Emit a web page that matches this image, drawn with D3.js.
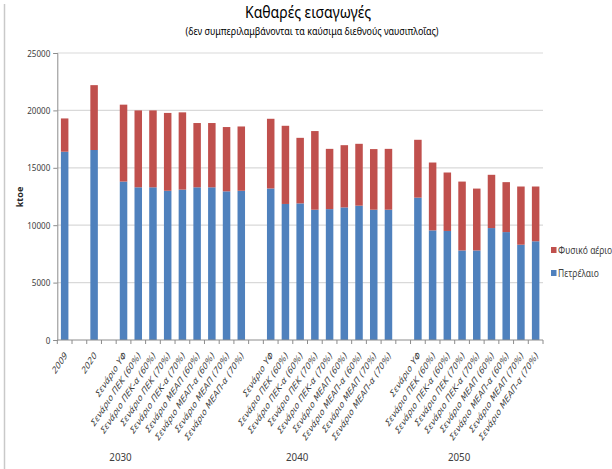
<!DOCTYPE html>
<html>
<head>
<meta charset="utf-8">
<script src="https://cdn.jsdelivr.net/npm/d3@7"></script>
<style>
  html, body { margin: 0; padding: 0; background: #fff; }
  svg { display: block; }
  text { font-family: "Noto Sans", "DejaVu Sans", sans-serif; }
  text.cat { font-family: "DejaVu Sans", "Noto Sans", sans-serif; }
</style>
</head>
<body>
<svg id="chart" width="612" height="469"></svg>
<script>
// Scenario names repeated for each horizon year
const scenarios = [
  "Σενάριο ΥΦ",
  "Σενάριο ΠΕΚ (60%)",
  "Σενάριο ΠΕΚ-α (60%)",
  "Σενάριο ΠΕΚ (70%)",
  "Σενάριο ΠΕΚ-α (70%)",
  "Σενάριο ΜΕΑΠ (60%)",
  "Σενάριο ΜΕΑΠ-α (60%)",
  "Σενάριο ΜΕΑΠ (70%)",
  "Σενάριο ΜΕΑΠ-α (70%)"
];

// Category slots along the x axis (empty strings are spacer slots)
const categories = ["2009", "", "2020", "", ...scenarios, "", ...scenarios, "", ...scenarios];

// Horizon year for each scenario group, and the slot its label sits under
const groupYears = ["2030", "2040", "2050"];
const groupLabelSlot = [4, 16, 27];

// Net imports, ktoe (null = spacer)
const petroleum = [
  16400, null, 16550, null,
  13800, 13300, 13300, 13000, 13100, 13300, 13300, 12950, 13000, null,
  13200, 11850, 11900, 11350, 11400, 11550, 11700, 11350, 11350, null,
  12400, 9550, 9500, 7800, 7800, 9750, 9400, 8300, 8600
];
const naturalGas = [
  2900, null, 5650, null,
  6700, 6700, 6700, 6780, 6730, 5600, 5600, 5600, 5600, null,
  6070, 6810, 5710, 6850, 5250, 5420, 5390, 5280, 5300, null,
  5040, 5910, 5090, 6000, 5390, 4640, 4350, 5070, 4770
];

const seriesNames = ["Πετρέλαιο", "Φυσικό αέριο"];
const seriesColors = ["#4F81BD", "#C0504D"];
const yTicks = [0, 5000, 10000, 15000, 20000, 25000];

const titleText = "Καθαρές εισαγωγές";
const subtitleText = "(δεν συμπεριλαμβάνονται τα καύσιμα διεθνούς ναυσιπλοΐας)";
const yAxisTitle = "ktoe";

// ---- layout
const plot = { left: 57.3, right: 543, top: 53, bottom: 340 };
const svg = d3.select("#chart");

const x = d3.scaleBand()
  .domain(d3.range(categories.length))
  .range([plot.left, plot.right])
  .paddingInner(0.49)
  .paddingOuter(0.245);
const y = d3.scaleLinear().domain([0, 25000]).range([plot.bottom, plot.top]);

// frame edge on the left
svg.append("line")
  .attr("x1", 4.5).attr("x2", 4.5).attr("y1", 4).attr("y2", 469)
  .attr("stroke", "#c9c9c9").attr("stroke-width", 1.5);

// horizontal gridlines
svg.append("g").selectAll("line")
  .data(yTicks.filter(t => t > 0))
  .join("line")
  .attr("x1", plot.left).attr("x2", plot.right)
  .attr("y1", d => y(d)).attr("y2", d => y(d))
  .attr("stroke", "#d9d9d9").attr("stroke-width", 1.2);

// y axis
const yAxis = svg.append("g")
  .attr("transform", `translate(${plot.left},0)`)
  .call(d3.axisLeft(y).tickValues(yTicks).tickSize(4).tickPadding(3).tickFormat(d3.format("d")));
yAxis.select(".domain").attr("stroke", "#8c8c8c");
yAxis.selectAll(".tick line").attr("stroke", "#8c8c8c");
yAxis.selectAll(".tick text")
  .attr("fill", "#404040")
  .style("font-size", "9.5px")
  .attr("transform", function () {
    // slightly narrowed digits, anchored at their right end
    const xx = +d3.select(this).attr("x");
    return `translate(${xx},0) scale(0.85,1) translate(${-xx},0)`;
  });

// y axis title
svg.append("text")
  .attr("transform", "translate(23,197) rotate(-90)")
  .attr("text-anchor", "middle")
  .style("font-size", "9px")
  .style("font-weight", "bold")
  .attr("fill", "#262626")
  .text(yAxisTitle);

// stacked bars
const rows = categories.map((c, i) => ({ i, oil: petroleum[i], gas: naturalGas[i] }))
  .filter(r => r.oil != null);
const stack = d3.stack().keys(["oil", "gas"])(rows);
svg.append("g").selectAll("g")
  .data(stack)
  .join("g")
  .attr("fill", (d, k) => seriesColors[k])
  .selectAll("rect")
  .data(d => d)
  .join("rect")
  .attr("x", d => x(d.data.i))
  .attr("width", x.bandwidth())
  .attr("y", d => y(d[1]))
  .attr("height", d => y(d[0]) - y(d[1]));

// x axis line and slot separators
const step = x.step();
const xAxis = svg.append("g");
xAxis.append("line")
  .attr("x1", plot.left).attr("x2", plot.right)
  .attr("y1", plot.bottom).attr("y2", plot.bottom)
  .attr("stroke", "#8c8c8c");
xAxis.selectAll("line.sep")
  .data(d3.range(categories.length + 1))
  .join("line").attr("class", "sep")
  .attr("x1", i => plot.left + i * step).attr("x2", i => plot.left + i * step)
  .attr("y1", plot.bottom).attr("y2", plot.bottom + 4)
  .attr("stroke", "#8c8c8c");

// rotated category labels
svg.append("g").selectAll("text")
  .data(categories.map((c, i) => ({ c, i })).filter(d => d.c !== ""))
  .join("text")
  .attr("class", "cat")
  .attr("transform", d => `translate(${x(d.i) + x.bandwidth() / 2 + 3},${plot.bottom + 16}) scale(0.66,1) rotate(-45)`)
  .attr("text-anchor", "end")
  .style("font-size", "10.5px")
  .attr("fill", "#404040")
  .text(d => d.c);

// horizon year labels
svg.append("g").selectAll("text")
  .data(groupYears)
  .join("text")
  .attr("transform", (d, k) => `translate(${x(groupLabelSlot[k]) + x.bandwidth() / 2 - 3},461) scale(0.85,1)`)
  .attr("text-anchor", "middle")
  .style("font-size", "11.5px")
  .attr("fill", "#404040")
  .text(d => d);

// legend (gas on top, petroleum below)
const legend = svg.append("g").attr("transform", "translate(551,0)");
const legendItems = [1, 0];
legend.selectAll("rect")
  .data(legendItems)
  .join("rect")
  .attr("x", 0).attr("y", (d, k) => 247 + k * 23)
  .attr("width", 5.5).attr("height", 6)
  .attr("fill", d => seriesColors[d]);
legend.selectAll("text")
  .data(legendItems)
  .join("text")
  .attr("transform", (d, k) => `translate(7,${254 + k * 23}) scale(0.85,1)`)
  .style("font-size", "10px")
  .attr("fill", "#404040")
  .text(d => seriesNames[d]);

// titles
svg.append("text")
  .attr("transform", "translate(308,18) scale(0.85,1)")
  .attr("text-anchor", "middle")
  .style("font-size", "16.5px")
  .attr("fill", "#000")
  .text(titleText);
svg.append("text")
  .attr("transform", "translate(312,35) scale(0.85,1)")
  .attr("text-anchor", "middle")
  .style("font-size", "10.5px")
  .attr("fill", "#000")
  .text(subtitleText);
</script>
</body>
</html>
